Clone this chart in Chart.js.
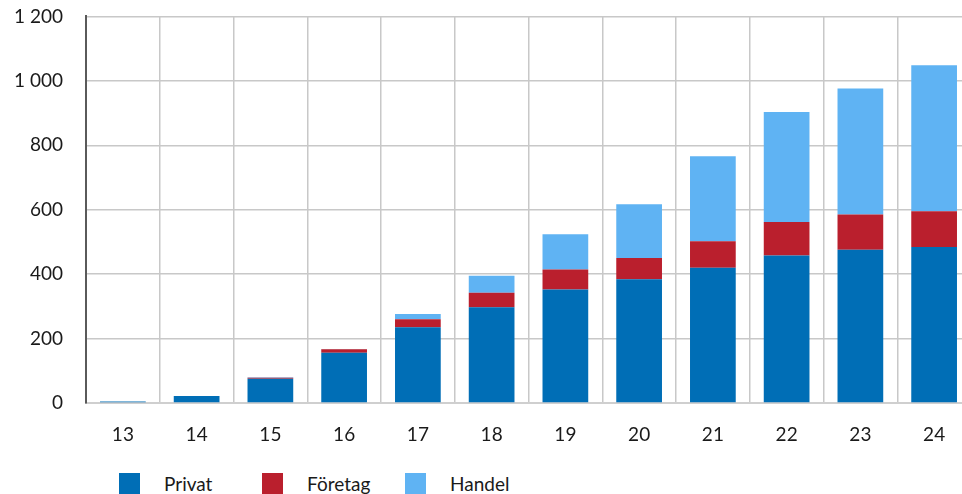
<html lang="sv">

<head>
  <meta charset="UTF-8">
  <script src="https://cdn.jsdelivr.net/npm/chart.js@4.4.1/dist/chart.umd.min.js"></script>
  <title>Privat, Företag, Handel</title>
  <style>
    body { margin: 0; overflow: hidden; background: #fff; font-family: Lato, sans-serif; }
    #wrap { position: relative; width: 975px; height: 451px; overflow: hidden; }
    #myChart { position: absolute; left: 0; top: -18px; }
    #legend { display: flex; margin: 21px 0 0 119px; }
    .item { display: flex; align-items: center; width: 143px; font-size: 19px; color: #1a1a1a; }
    .box { width: 21px; height: 21px; margin-right: 24px; }
  </style>
</head>

<body>
  <div id="wrap"><canvas id="myChart" width="975" height="469"></canvas></div>
  <div id="legend"></div>
  <script>
    const years = ['13', '14', '15', '16', '17', '18', '19', '20', '21', '22', '23', '24'];
    const privat = [5, 22, 75, 156, 235, 297, 352, 384, 420, 458, 476, 484];
    const foretag = [0, 0, 3, 11, 25, 45, 62, 66, 82, 104, 109, 111];
    const handel = [0, 0, 2, 1, 16, 53, 110, 167, 264, 341, 391, 453];
    const yTicks = [0, 200, 400, 600, 800, 1000, 1200];

    // 1200 -> "1 200"
    function fmt(v) {
      return String(v).replace(/\B(?=(\d{3})+(?!\d))/g, ' ');
    }

    const font = { family: 'Lato', size: 19 };

    const ctx = document.getElementById('myChart').getContext('2d');
    const myChart = new Chart(ctx, {
      type: 'bar',
      data: {
        labels: years,
        datasets: [
          { label: 'Privat', data: privat, backgroundColor: '#006eb6' },
          { label: 'Företag', data: foretag, backgroundColor: '#ba1f2d' },
          { label: 'Handel', data: handel, backgroundColor: '#5fb3f3' }
        ]
      },
      options: {
        responsive: false,
        animation: false,
        layout: { padding: { top: 0, right: 4, left: 0, bottom: 0 } },
        datasets: {
          bar: {
            categoryPercentage: 1,
            barPercentage: 0.62
          }
        },
        plugins: {
          legend: { display: false },
          tooltip: { enabled: false }
        },
        scales: {
          x: {
            stacked: true,
            afterFit: (s) => { s.height = 48; },
            grid: { color: '#c8c8c8', lineWidth: 1.5, drawTicks: false, offset: true },
            border: { color: '#cfcfcf', width: 2 },
            ticks: { font: font, color: '#1a1a1a', padding: 20 }
          },
          y: {
            stacked: true,
            min: 0,
            max: yTicks[yTicks.length - 1],
            afterFit: (s) => { s.width = 86; },
            afterBuildTicks: (s) => { s.ticks = yTicks.map(v => ({ value: v })); },
            grid: { color: '#c8c8c8', lineWidth: 1.5, drawTicks: false },
            border: { color: '#5a5a5a', width: 2 },
            ticks: { font: font, color: '#1a1a1a', padding: 23, callback: (v) => fmt(v) }
          }
        }
      }
    });

    // legend under the chart, built from the datasets
    const legend = document.getElementById('legend');
    myChart.data.datasets.forEach(ds => {
      const item = document.createElement('div');
      item.className = 'item';
      const box = document.createElement('span');
      box.className = 'box';
      box.style.background = ds.backgroundColor;
      item.appendChild(box);
      item.appendChild(document.createTextNode(ds.label));
      legend.appendChild(item);
    });
  </script>
</body>

</html>
